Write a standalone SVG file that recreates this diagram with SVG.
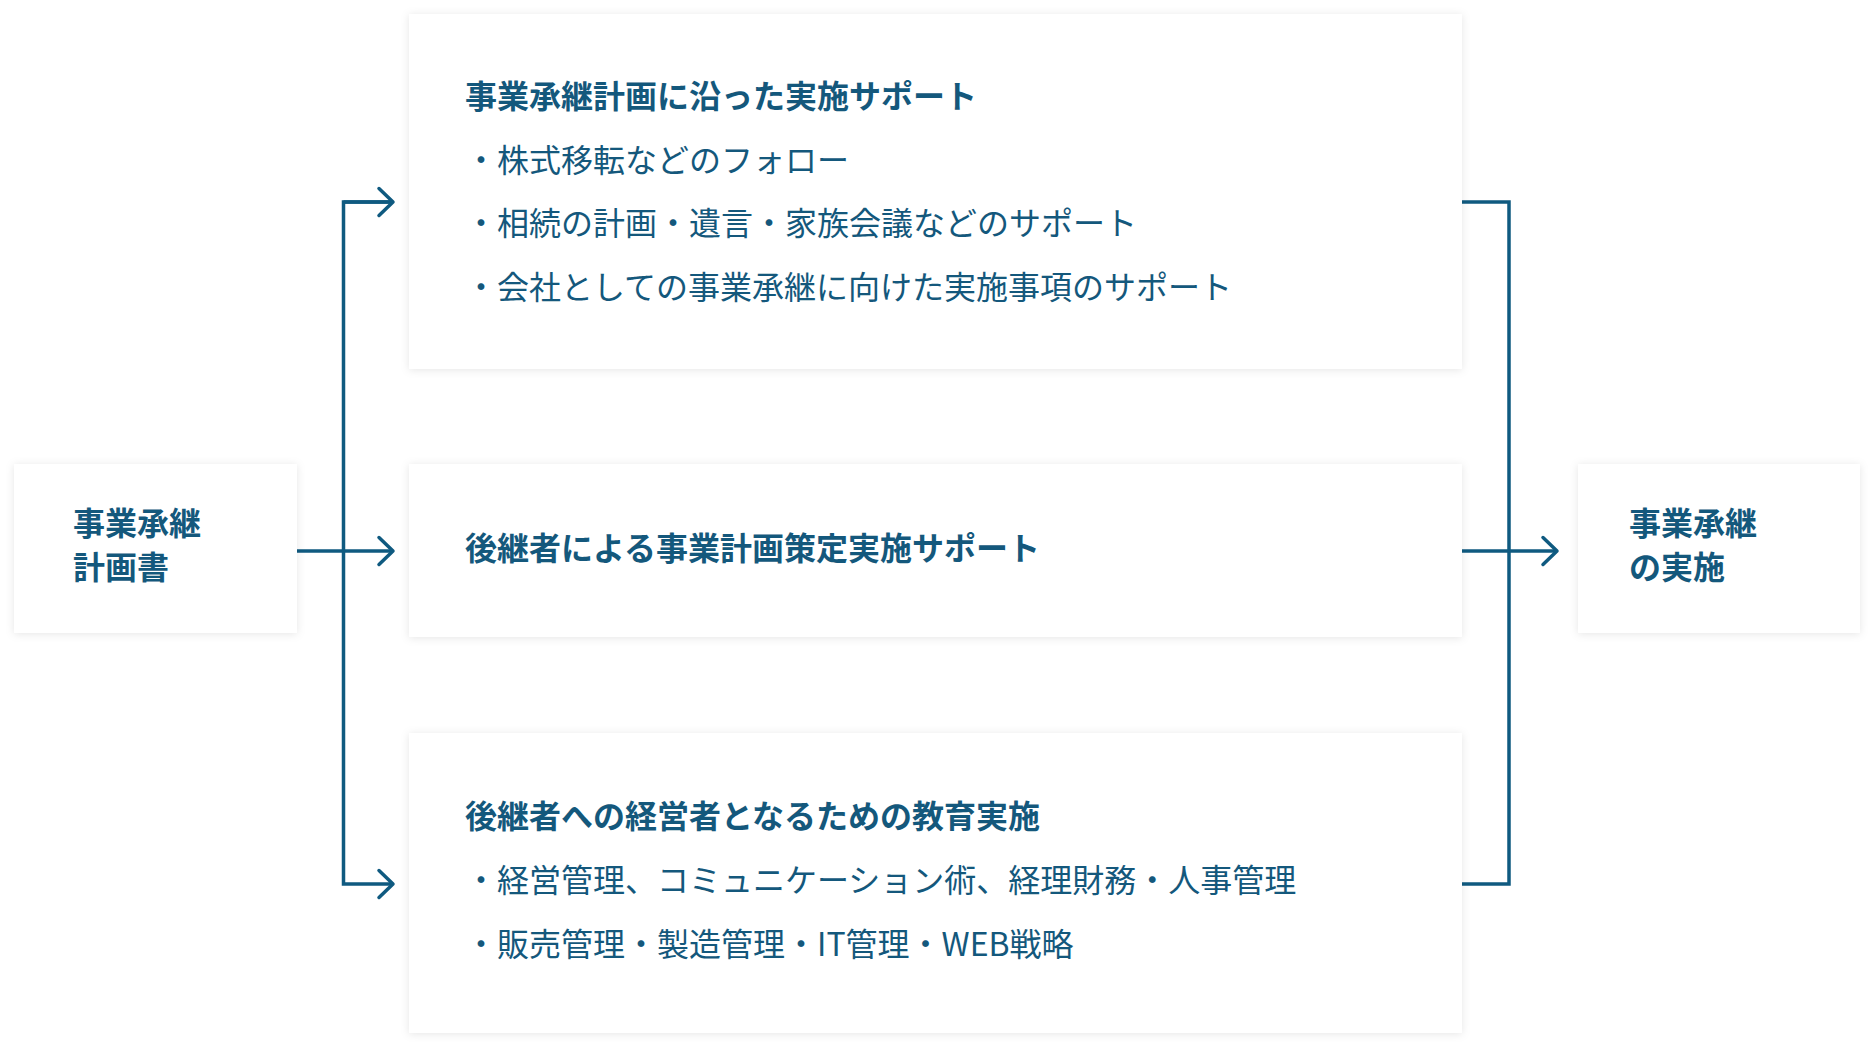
<svg xmlns="http://www.w3.org/2000/svg" width="1873" height="1046" viewBox="0 0 1873 1046">
<defs>
<filter id="sh" x="-10%" y="-20%" width="120%" height="140%">
<feDropShadow dx="0" dy="1" stdDeviation="4" flood-color="#000" flood-opacity="0.10"/>
</filter>
<marker id="ah" viewBox="0 0 20 32" refX="17" refY="16" markerWidth="20" markerHeight="32" markerUnits="userSpaceOnUse" orient="auto">
<path d="M3,2.5 L17,16 L3,29.5" fill="none" stroke="#0f5a80" stroke-width="3.5" stroke-linecap="round" stroke-linejoin="round"/>
</marker>
<style>
.box{fill:#fff;filter:url(#sh)}
.t{font-family:"Noto Sans CJK JP","Noto Sans",sans-serif;fill:#14587c;font-size:32px}
.b{font-weight:700}
.r{font-weight:400}
.ln{fill:none;stroke:#0f5a80;stroke-width:3.5}
</style>
</defs>
<rect width="1873" height="1046" fill="#fff"/>
<g id="connectors">
<path class="ln" d="M297,551 H393" marker-end="url(#ah)"/>
<path class="ln" d="M393,202 H343.5 V884 H393" marker-end="url(#ah)"/>
<path class="ln" d="M343.5,202 H393" marker-end="url(#ah)"/>
<path class="ln" d="M1462,202 H1509 V884 H1462"/>
<path class="ln" d="M1462,551 H1557" marker-end="url(#ah)"/>
</g>
<g id="node-plan">
<rect class="box" x="14" y="464" width="283" height="169"/>
<text class="t b" x="73" y="535">事業承継</text>
<text class="t b" x="73" y="579">計画書</text>
</g>
<g id="node-support1">
<rect class="box" x="409" y="14" width="1053" height="355"/>
<text class="t b" x="465" y="108">事業承継計画に沿った実施サポート</text>
<text class="t r" x="465" y="172">・株式移転などのフォロー</text>
<text class="t r" x="465" y="235">・相続の計画・遺言・家族会議などのサポート</text>
<text class="t r" x="465" y="299">・会社としての事業承継に向けた実施事項のサポート</text>
</g>
<g id="node-support2">
<rect class="box" x="409" y="464" width="1053" height="173"/>
<text class="t b" x="465" y="560">後継者による事業計画策定実施サポート</text>
</g>
<g id="node-support3">
<rect class="box" x="409" y="733" width="1053" height="300"/>
<text class="t b" x="465" y="828">後継者への経営者となるための教育実施</text>
<text class="t r" x="465" y="892">・経営管理、コミュニケーション術、経理財務・人事管理</text>
<text class="t r" x="465" y="956">・販売管理・製造管理・IT管理・WEB戦略</text>
</g>
<g id="node-result">
<rect class="box" x="1578" y="464" width="282" height="169"/>
<text class="t b" x="1629" y="535">事業承継</text>
<text class="t b" x="1629" y="579">の実施</text>
</g>
</svg>
